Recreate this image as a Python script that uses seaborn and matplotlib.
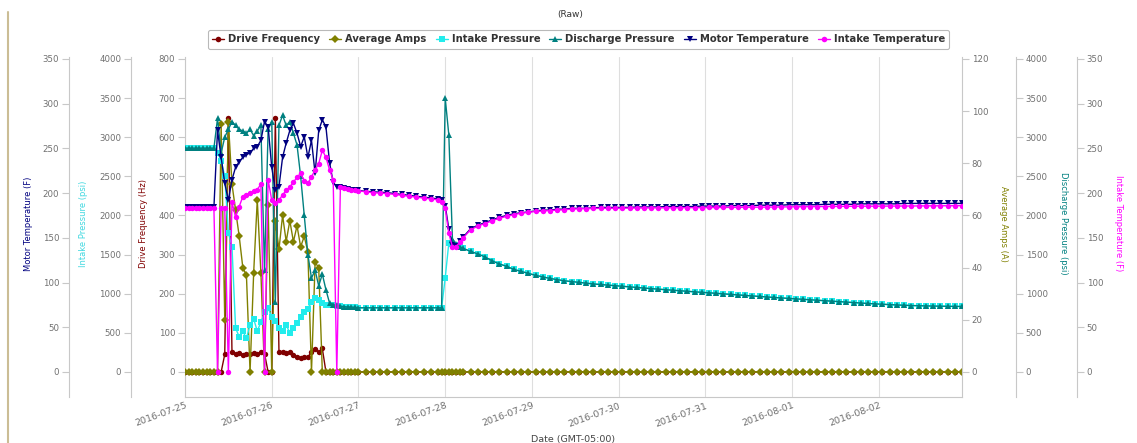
import matplotlib
matplotlib.use("Agg")
import matplotlib.pyplot as plt
import matplotlib.dates as mdates
from matplotlib.lines import Line2D
import pandas as pd
import seaborn as sns

# sample times: hours after 2016-07-25 00:00
# (hourly while the pump was cycling and around the 07-28 restart, 2-hourly elsewhere)
hours = (list(range(0, 48)) + list(range(48, 71, 2)) +
         list(range(71, 78)) + list(range(79, 216, 2)))
times = pd.Timestamp("2016-07-25 00:00") + pd.to_timedelta(hours, unit="h")

# readings 07-25 09:00 .. 07-26 14:00 (hourly)
drive_run = [0, 0, 45, 650, 50, 45, 48, 44, 47, 45, 49, 46, 50, 47, 0,
             0, 650, 52, 50, 48, 50, 44, 38, 36, 38, 37, 52, 58, 50, 60]
amps_run = [0, 95, 20, 96, 72, 62, 52, 40, 37, 0, 38, 66, 38, 0, 64,
            0, 58, 47, 60, 50, 58, 50, 56, 48, 52, 46, 0, 42, 40, 0]

# readings 07-25 09:00 .. 07-26 23:00 (hourly)
ip_run = [2800, 2700, 2500, 1780, 1600, 560, 450, 520, 430, 600, 680, 520, 640,
          760, 820, 700, 650, 560, 520, 600, 500, 560, 620, 700, 760, 800, 900,
          940, 920, 880, 860, 850, 850, 840, 840, 835, 835, 835, 830]
dp_run = [3240, 2800, 3000, 3100, 3200, 3150, 3100, 3080, 3050, 3100, 3020,
          3080, 3150, 1300, 3100, 3200, 900, 3150, 3280, 3150, 3200, 3050, 2900,
          2500, 2000, 1500, 1200, 1300, 1100, 1250, 1050, 880, 860, 850, 840,
          835, 830, 830, 825]
mt_run = [270, 240, 211, 192, 215, 229, 235, 240, 243, 245, 250, 252, 259,
          280, 274, 229, 203, 207, 240, 256, 270, 278, 267, 252, 263, 240, 259,
          222, 270, 282, 274, 234, 212, 207, 207, 206, 205, 204, 203]
it_run = [0, 183, 183, 0, 190, 173, 185, 196, 198, 200, 202, 204, 210, 0, 215,
          192, 189, 192, 198, 203, 207, 212, 218, 222, 214, 211, 218, 226, 233,
          248, 240, 226, 215, 0, 207, 206, 205, 204, 203]

# 07-27 00:00 .. 22:00 (2-hourly)
mt_flat = [203, 202, 201.5, 201, 200.5, 199.5, 198.5, 197.5, 196.5, 195.5, 194.5, 193.5]
it_flat = [202.5, 201.5, 200.5, 200, 199.5, 198.5, 197.5, 196.5, 195.5, 194.5, 193.5, 192.5]

# 07-27 23:00 .. 07-28 05:00 (hourly)
ip_spike = [820, 1200, 1650, 1640, 1620, 1600, 1580]
dp_spike = [820, 3500, 3030, 1700, 1640, 1600, 1580]
mt_spike = [192, 186, 160, 142, 141, 146, 151]
it_spike = [190, 183, 155, 140, 140, 145, 150]

# 07-28 07:00 .. 08-02 23:00 (2-hourly)
pressure_tail = [1540, 1510, 1470, 1420, 1380, 1350, 1310, 1285, 1260, 1235,
                 1215, 1195, 1180, 1165, 1155, 1145, 1135, 1125, 1118, 1110,
                 1102, 1095, 1088, 1080, 1072, 1065, 1058, 1050, 1043, 1036,
                 1030, 1024, 1018, 1012, 1005, 998, 992, 985, 978, 972,
                 965, 958, 952, 946, 940, 934, 928, 922, 916, 910,
                 904, 898, 892, 886, 880, 875, 870, 865, 860, 856,
                 852, 849, 846, 844, 842, 840, 839, 838, 837]
mt_tail = [160, 164, 167, 170, 173, 175, 177, 178, 179, 180,
           181, 181, 182, 182, 183, 183, 183, 183.5, 184, 184,
           184, 184, 184, 184.5, 184.5, 184.5, 184.5, 185, 185, 185,
           185, 185, 185.5, 185.5, 185.5, 185.5, 186, 186, 186, 186,
           186.5, 186.5, 186.5, 186.5, 187, 187, 187, 187, 187, 187.5,
           187.5, 187.5, 187.5, 187.5, 188, 188, 188, 188, 188, 188,
           188.5, 188.5, 188.5, 188.5, 188.5, 188.5, 188.5, 188.5, 188.5]
it_tail = [159, 163, 166, 169, 172, 174, 176, 177.5, 178.5, 179.5,
           180, 180.5, 181, 181.5, 182, 182.5, 182.6, 182.8, 183, 183,
           183.1, 183.2, 183.3, 183.3, 183.4, 183.5, 183.5, 183.6, 183.6, 183.7,
           183.7, 183.8, 183.8, 183.9, 183.9, 184, 184, 184.1, 184.1, 184.2,
           184.3, 184.4, 184.5, 184.5, 184.6, 184.7, 184.8, 184.9, 185, 185,
           185.1, 185.2, 185.2, 185.3, 185.3, 185.4, 185.4, 185.5, 185.5, 185.5,
           185.6, 185.6, 185.7, 185.7, 185.8, 185.8, 185.9, 185.9, 186]

drive_freq = [0] * 9 + drive_run + [0] * 97
avg_amps = [0] * 9 + amps_run + [0] * 97
intake_pres = [2860] * 9 + ip_run + [820] * 12 + ip_spike + pressure_tail
discharge_pres = [2860] * 9 + dp_run + [820] * 12 + dp_spike + pressure_tail
motor_temp = [184] * 9 + mt_run + mt_flat + mt_spike + mt_tail
intake_temp = [183] * 9 + it_run + it_flat + it_spike + it_tail

for s in (drive_freq, avg_amps, intake_pres, discharge_pres, motor_temp, intake_temp):
    assert len(s) == len(hours), len(s)

# name, values, colour, marker, axis max, tick step, side, spine offset (px), label, label x
series = [
    ("Drive Frequency", drive_freq, "#800000", "o", 800, 100, "left", 0,
     "Drive Frequency (Hz)", -0.054),
    ("Average Amps", avg_amps, "#808000", "D", 120, 20, "right", 0,
     "Average Amps (A)", 1.053),
    ("Intake Pressure", intake_pres, "#22ecec", "s", 4000, 500, "left", 54,
     "Intake Pressure (psi)", -0.131),
    ("Discharge Pressure", discharge_pres, "#008080", "^", 4000, 500, "right", 54,
     "Discharge Pressure (psi)", 1.130),
    ("Motor Temperature", motor_temp, "#000080", "v", 350, 50, "left", 116,
     "Motor Temperature (F)", -0.202),
    ("Intake Temperature", intake_temp, "#ff00ff", "o", 350, 50, "right", 115,
     "Intake Temperature (F)", 1.201),
]

sns.set_style("white")
plt.rcParams["font.family"] = ["DejaVu Sans"]

W, H = 1137, 443
fig = plt.figure(figsize=(W / 100, H / 100), dpi=100)
ax = fig.add_axes([185 / W, 46 / H, 777 / W, 340 / H])

spine_col = "#c8c8c8"
for i, (name, vals, color, marker, top, step, side, off, ylab, lx) in enumerate(series):
    a = ax if i == 0 else ax.twinx()
    sns.lineplot(x=times, y=vals, ax=a, color=color, marker=marker, markersize=3.9,
                 markeredgewidth=0, linewidth=1.0, estimator=None, sort=False)
    a.set_ylim(-64 / 800 * top, 805 / 800 * top)
    a.set_yticks(range(0, top + 1, step))
    for sp in a.spines.values():
        sp.set_visible(False)
    sp = a.spines[side]
    sp.set_visible(True)
    sp.set_color(spine_col)
    sp.set_linewidth(0.8)
    sp.set_position(("outward", off * 0.72))
    a.yaxis.set_ticks_position(side)
    a.yaxis.set_label_position(side)
    a.tick_params(axis="y", direction="out", length=5, width=0.8, color=spine_col,
                  labelsize=6.2, labelcolor="#707070", pad=2)
    a.set_ylabel(ylab, color=color if name != "Intake Pressure" else "#40d8e0",
                 fontsize=6, rotation=90 if side == "left" else 270,
                 va="center", ha="center")
    a.yaxis.set_label_coords(lx, 0.51)

ax.spines["bottom"].set_visible(True)
ax.spines["bottom"].set_color(spine_col)
ax.spines["bottom"].set_linewidth(0.8)
ax.set_xlim(times[0], times[-1])
ax.xaxis.set_major_locator(mdates.DayLocator())
ax.xaxis.set_major_formatter(mdates.DateFormatter("%Y-%m-%d"))
ax.grid(axis="x", color="#dedede", linewidth=0.8)
ax.grid(axis="y", visible=False)
ax.tick_params(axis="x", length=0, labelsize=6.8, labelcolor="#707070", pad=3,
               labelrotation=20)
plt.setp(ax.get_xticklabels(), ha="right", rotation_mode="anchor")
ax.set_xlabel("Date (GMT-05:00)", fontsize=6.8, color="#444444", labelpad=5)

handles = [Line2D([0], [0], color=c, marker=m, markersize=4, markeredgewidth=0, linewidth=1)
           for _, _, c, m, *rest in series]
leg = fig.legend(handles, [s[0] for s in series], ncol=6, loc="center",
                 bbox_to_anchor=(578.5 / W, 1 - 39 / H),
                 prop={"size": 7.2, "weight": "bold"}, labelcolor="#333333",
                 frameon=True, fancybox=True, edgecolor="#a8a8a8",
                 handlelength=1.2, handletextpad=0.4, columnspacing=0.9, borderpad=0.45)
leg.get_frame().set_linewidth(0.8)

fig.text(570 / W, 1 - 15 / H, "(Raw)", ha="center", va="center", fontsize=6.5, color="#333333")
fig.add_artist(Line2D([7.5 / W, 7.5 / W], [0, 1 - 12 / H], transform=fig.transFigure,
                      color="#cbbd95", linewidth=1.5))

fig.savefig("out.png", dpi=100)
